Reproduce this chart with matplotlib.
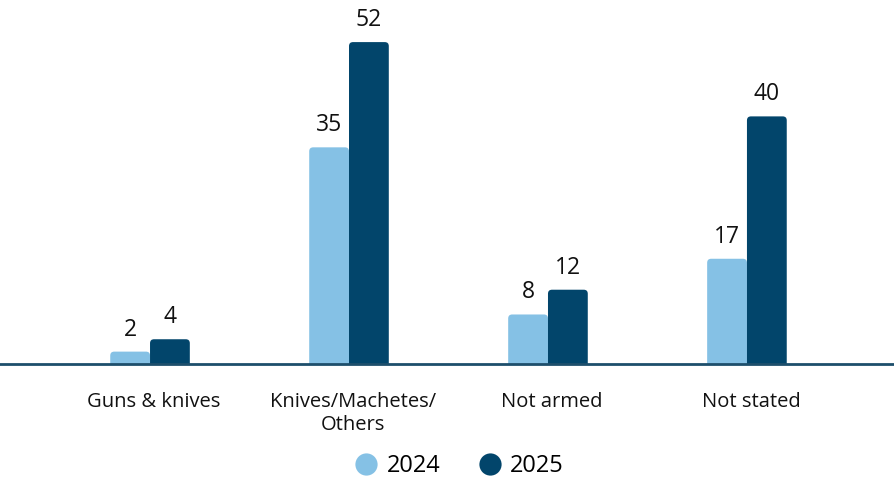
import matplotlib.pyplot as plt
from matplotlib.patches import FancyBboxPatch
from matplotlib.lines import Line2D
import numpy as np

plt.rcParams['font.family'] = ['Open Sans', 'DejaVu Sans']

categories = ["Guns & knives", "Knives/Machetes/\nOthers", "Not armed", "Not stated"]
values_2024 = [2, 35, 8, 17]
values_2025 = [4, 52, 12, 40]
series = ["2024", "2025"]
colors = ["#85c1e5", "#02456b"]

fig = plt.figure(figsize=(8.94, 4.91), dpi=100)
ax = fig.add_axes([0, 1 - 364 / 491, 1, 364 / 491])

x = np.arange(len(categories))
w = 0.2
ax.set_xlim(-0.754, 3.739)
ax.set_ylim(0, 58.8)

# pixel sizes, for round corners
px_x = (3.739 + 0.754) / 894
px_y = 58.8 / 364
r = 4

for vals, off, c in [(values_2024, -w / 2, colors[0]), (values_2025, w / 2, colors[1])]:
    for xi, v in zip(x, vals):
        left = xi + off - w / 2
        p = FancyBboxPatch((left, -r * px_y), w, v + r * px_y,
                           boxstyle="round,pad=0,rounding_size=%f" % (r * px_x),
                           mutation_aspect=px_y / px_x,
                           facecolor=c, edgecolor="none", clip_on=True)
        ax.add_patch(p)
        ax.text(xi + off, v + 10 * px_y, str(v), ha="center", va="bottom",
                fontsize=16.5, color="#111111")

ax.axhline(0, color="#1d4e6b", lw=2, clip_on=False)

for xi, lab in zip(x, categories):
    ax.text(xi + 0.02, -28 * px_y, lab, ha="center", va="top", fontsize=14.5,
            color="#111111", linespacing=1.2)

for s in ax.spines.values():
    s.set_visible(False)
ax.set_xticks([])
ax.set_yticks([])

handles = [Line2D([], [], marker="o", ls="none", markersize=16,
                  markerfacecolor=c, markeredgecolor="none") for c in colors]
fig.legend(handles, series, loc="center", bbox_to_anchor=(458 / 894, 1 - 466 / 491),
           ncol=2, frameon=False, fontsize=17, handlelength=1.2,
           handletextpad=0.25, columnspacing=1.5)

fig.savefig("out.png", dpi=100)
